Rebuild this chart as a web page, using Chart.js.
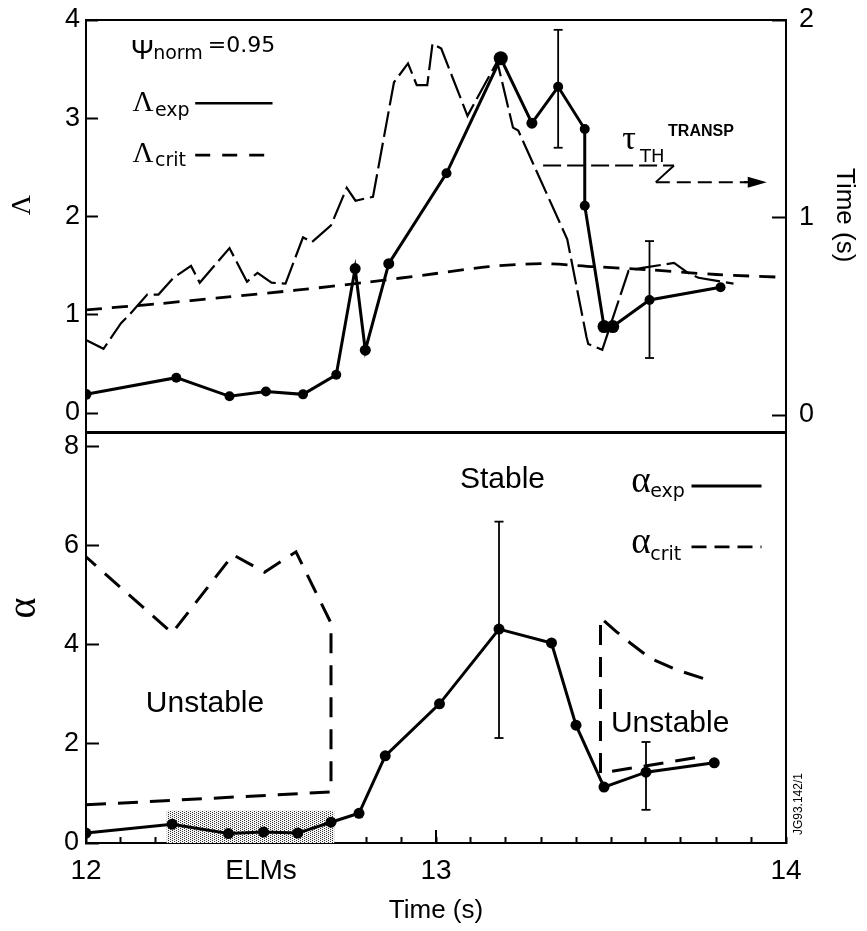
<!DOCTYPE html>
<html><head><meta charset="utf-8">
<script src="https://cdn.jsdelivr.net/npm/chart.js@4/dist/chart.umd.min.js"></script>
<style>
html,body{margin:0;padding:0;background:#fff;width:867px;height:931px;overflow:hidden}
canvas{position:absolute;left:0}
#c1{top:0}
#c2{top:420px}
</style></head><body>
<canvas id="c1" width="867" height="445"></canvas>
<canvas id="c2" width="867" height="511"></canvas>
<script>
// ---------------- DATA ----------------
// Top panel: Lambda_exp (left axis)
const lambdaExpTime  = [12.00,12.258,12.41,12.514,12.62,12.715,12.769,12.798,12.865,13.03,13.185,13.274,13.349,13.425,13.425,13.48,13.505,13.61,13.813];
const lambdaExpValue = [0.19,0.36,0.17,0.22,0.19,0.39,1.47,0.64,1.52,2.44,3.61,2.95,3.32,2.89,2.11,0.88,0.88,1.15,1.28];
const lambdaExpRadius= [5.5,5,5,5,5,5,5.5,5.5,5.5,5,7,5.5,5,5,5,6.5,6.5,5,5];
// Top panel: Lambda_crit (left axis)
const lambdaCritTime  = [12.0,12.2,12.4,12.6,12.8,13.0,13.15,13.3,13.45,13.6,13.8,14.0];
const lambdaCritValue = [1.05,1.11,1.18,1.25,1.33,1.42,1.49,1.52,1.49,1.46,1.41,1.38];
// Top panel: tau_TH TRANSP (right axis, seconds)
const tauTime  = [12.00,12.05,12.10,12.125,12.175,12.207,12.25,12.30,12.325,12.41,12.46,12.49,12.53,12.57,12.62,12.645,12.70,12.745,12.77,12.82,12.88,12.92,12.945,12.975,12.99,13.015,13.09,13.175,13.22,13.235,13.375,13.43,13.435,13.475,13.55,13.59,13.68,13.72,13.75,13.85];
const tauValue = [0.38,0.335,0.465,0.51,0.61,0.61,0.695,0.755,0.67,0.845,0.675,0.72,0.67,0.665,0.90,0.875,0.96,1.15,1.085,1.105,1.685,1.78,1.67,1.67,1.88,1.855,1.515,1.79,1.455,1.44,0.89,0.395,0.36,0.33,0.73,0.745,0.77,0.72,0.695,0.665];
// Top panel error bars
const lambdaErrTime = [13.349,13.61];
const lambdaErrLow  = [2.70,0.56];
const lambdaErrHigh = [3.90,1.75];
// Bottom panel: alpha_exp
const alphaExpTime  = [12.00,12.246,12.407,12.507,12.605,12.70,12.78,12.855,13.01,13.18,13.33,13.40,13.48,13.60,13.795];
const alphaExpValue = [0.20,0.38,0.19,0.22,0.20,0.42,0.60,1.76,2.81,4.32,4.04,2.38,1.13,1.43,1.62];
// Bottom panel: alpha_crit (two branches)
const alphaCritLeftTime   = [12.0,12.70,12.70,12.60,12.51,12.42,12.246,12.0];
const alphaCritLeftValue  = [0.77,1.03,4.44,5.88,5.47,5.82,4.24,5.78];
const alphaCritRightTime  = [13.74,13.47,13.47,13.515,13.555,13.61,13.69,13.77];
const alphaCritRightValue = [1.72,1.41,4.55,4.27,4.04,3.74,3.49,3.31];
// Bottom panel error bars
const alphaErrTime = [13.18,13.60];
const alphaErrLow  = [2.12,0.67];
const alphaErrHigh = [6.49,2.04];
// ELM shaded band
const elmTime  = [12.23,12.71];
const elmLevel = [0.65,0.65];
// Tick labels
const xTickLabels = {'12.0':'12','12.5':'ELMs','13.0':'13','14.0':'14'};
const lambdaTicks = [0,1,2,3,4];
const timeTicks = [0,1,2];
const alphaTicks = [0,2,4,6,8];

// ---------------- STYLE HELPERS ----------------
Chart.defaults.color = '#000';
const SANS = "'Liberation Sans', Arial, sans-serif";
const DV = "'DejaVu Sans', sans-serif";
const SERIF = "'Liberation Serif', 'Times New Roman', serif";
Chart.defaults.font.family = SANS;

const pts = (xs, ys) => xs.map((x, i) => ({x, y: ys[i]}));
const zeroPad = s => { s.paddingTop = 0; s.paddingBottom = 0; s.paddingLeft = 0; s.paddingRight = 0; };
const fixW = w => s => { s.width = w; zeroPad(s); };
const fixH = h => s => { s.height = h; zeroPad(s); };
const BORDER = {display: true, color: '#000', width: 2};

function txt(ctx, s, px, py, font, align, sx) {
  ctx.save();
  ctx.font = font; ctx.textAlign = align || 'left'; ctx.textBaseline = 'alphabetic'; ctx.fillStyle = '#000';
  ctx.translate(px, py); if (sx) ctx.scale(sx, 1);
  ctx.fillText(s, 0, 0);
  ctx.restore();
}
function seg(ctx, x1, y1, x2, y2, w, dash) {
  ctx.save(); ctx.strokeStyle = '#000'; ctx.lineWidth = w; ctx.setLineDash(dash || []);
  ctx.beginPath(); ctx.moveTo(x1, y1); ctx.lineTo(x2, y2); ctx.stroke(); ctx.restore();
}
function errorBar(ctx, px, pLo, pHi, cap) {
  seg(ctx, px, pLo, px, pHi, 1.8);
  seg(ctx, px - cap, pLo, px + cap, pLo, 1.8);
  seg(ctx, px - cap, pHi, px + cap, pHi, 1.8);
}

// ---------------- TOP CHART ----------------
const topNotes = {
  id: 'topNotes',
  afterDatasetsDraw(chart) {
    const {ctx, scales: {x, y}} = chart;
    const X = v => x.getPixelForValue(v), Y = v => y.getPixelForValue(v);
    lambdaErrTime.forEach((t, i) => errorBar(ctx, X(t), Y(lambdaErrLow[i]), Y(lambdaErrHigh[i]), 4.5));
    // labels
    txt(ctx, 'Ψ', X(12.128), Y(3.60), '28px ' + SANS);
    txt(ctx, 'norm', X(12.192), Y(3.60), '19px ' + DV);
    txt(ctx, '=0.95', X(12.348), Y(3.67), '22px ' + DV);
    txt(ctx, 'Λ', X(12.133), Y(3.07), '29px ' + SERIF);
    txt(ctx, 'exp', X(12.197), Y(3.02), '19px ' + DV);
    seg(ctx, X(12.312), Y(3.153), X(12.533), Y(3.153), 2.6);
    txt(ctx, 'Λ', X(12.133), Y(2.55), '29px ' + SERIF);
    txt(ctx, 'crit', X(12.197), Y(2.515), '19px ' + DV);
    seg(ctx, X(12.312), Y(2.625), X(12.533), Y(2.625), 2.6, [15, 12]);
    // tau_TH TRANSP label + arrow
    txt(ctx, 'τ', X(13.532), Y(2.69), '34px ' + SERIF);
    txt(ctx, 'TH', X(13.583), Y(2.552), '18px ' + DV);
    txt(ctx, 'TRANSP', X(13.663), Y(2.82), 'bold 16px ' + SANS);
    const ya = Y(2.52), yb = Y(2.35);
    seg(ctx, X(13.306), ya, X(13.68), ya, 2, [18, 6]);
    seg(ctx, X(13.68), ya, X(13.628), yb, 2);
    seg(ctx, X(13.628), yb, X(13.89), yb, 2, [14, 7]);
    const tip = X(13.945);
    ctx.save(); ctx.fillStyle = '#000'; ctx.beginPath();
    ctx.moveTo(tip, yb); ctx.lineTo(tip - 19, yb - 5.5); ctx.lineTo(tip - 19, yb + 5.5); ctx.closePath(); ctx.fill();
    ctx.restore();
    seg(ctx, X(13.88), yb, tip - 15, yb, 2);
  }
};

new Chart(document.getElementById('c1'), {
  type: 'line',
  data: {
    datasets: [
      {label: 'Λexp', data: pts(lambdaExpTime, lambdaExpValue), yAxisID: 'y',
       borderColor: '#000', borderWidth: 3, pointRadius: lambdaExpRadius, pointBackgroundColor: '#000',
       pointBorderWidth: 0, tension: 0, order: 1},
      {label: 'Λcrit', data: pts(lambdaCritTime, lambdaCritValue), yAxisID: 'y',
       borderColor: '#000', borderWidth: 2.8, borderDash: [16, 10], pointRadius: 0, tension: 0.3, order: 2},
      {label: 'τTH TRANSP', data: pts(tauTime, tauValue), yAxisID: 'y2',
       borderColor: '#000', borderWidth: 2.2, borderDash: [26, 6], pointRadius: 0, tension: 0, order: 3}
    ]
  },
  options: {
    responsive: false, animation: false, events: [],
    layout: {padding: {top: 20, bottom: 13, left: 0, right: 0}, autoPadding: false},
    plugins: {legend: {display: false}, tooltip: {enabled: false}},
    scales: {
      x: {type: 'linear', position: 'bottom', min: 12, max: 14,
          ticks: {display: false}, grid: {display: false}, border: BORDER, afterFit: fixH(0)},
      xTop: {type: 'linear', position: 'top', min: 12, max: 14,
          ticks: {display: false}, grid: {display: false}, border: BORDER, afterFit: fixH(0)},
      y: {type: 'linear', position: 'left', min: -0.193, max: 4,
          afterBuildTicks: s => { s.ticks = lambdaTicks.map(v => ({value: v})); },
          ticks: {font: {size: 27, family: SANS}, padding: 18, color: '#000'},
          grid: {drawOnChartArea: false, drawTicks: true, tickLength: -12, tickWidth: 2, tickColor: '#000'},
          border: BORDER,
          title: {display: true, text: '      Λ', font: {size: 28, family: SERIF}, padding: {top: 6, bottom: 0}, color: '#000'},
          afterFit: fixW(86)},
      y2: {type: 'linear', position: 'right', min: -0.086, max: 2,
          afterBuildTicks: s => { s.ticks = timeTicks.map(v => ({value: v})); },
          ticks: {font: {size: 27, family: SANS}, padding: 27, color: '#000'},
          grid: {drawOnChartArea: false, drawTicks: true, tickLength: -14, tickWidth: 2, tickColor: '#000'},
          border: BORDER,
          title: {display: true, text: 'Time (s)   ', font: {size: 26, family: SANS}, padding: {top: 7, bottom: 0}, color: '#000'},
          afterFit: fixW(81)}
    }
  },
  plugins: [topNotes]
});

// ---------------- BOTTOM CHART ----------------
const c2 = document.getElementById('c2');
const stipple = (() => {
  const off = document.createElement('canvas'); off.width = 4; off.height = 4;
  const g = off.getContext('2d');
  g.fillStyle = '#f4f4f4'; g.fillRect(0, 0, 4, 4);
  g.fillStyle = '#333'; [[0,0],[2,1],[0,2],[2,3]].forEach(([a, b]) => g.fillRect(a, b, 1, 1));
  return c2.getContext('2d').createPattern(off, 'repeat');
})();

const bottomNotes = {
  id: 'bottomNotes',
  afterDatasetsDraw(chart) {
    const {ctx, scales: {x, y}, chartArea} = chart;
    const X = v => x.getPixelForValue(v), Y = v => y.getPixelForValue(v);
    alphaErrTime.forEach((t, i) => errorBar(ctx, X(t), Y(alphaErrLow[i]), Y(alphaErrHigh[i]), 4.5));
    // longer major tick at 13
    seg(ctx, X(13), chartArea.bottom, X(13), chartArea.bottom - 13, 2);
    txt(ctx, 'Stable', X(13.19), Y(7.16), '30px ' + SANS, 'center');
    txt(ctx, 'α', X(13.558), Y(7.09), '37px ' + SERIF);
    txt(ctx, 'exp', X(13.612), Y(6.98), '19px ' + DV);
    seg(ctx, X(13.73), Y(7.21), X(13.93), Y(7.21), 2.8);
    txt(ctx, 'α', X(13.558), Y(5.86), '37px ' + SERIF);
    txt(ctx, 'crit', X(13.612), Y(5.72), '19px ' + DV);
    seg(ctx, X(13.73), Y(5.98), X(13.93), Y(5.98), 2.8, [15, 8]);
    txt(ctx, 'Unstable', X(12.34), Y(2.65), '30px ' + SANS, 'center');
    txt(ctx, 'Unstable', X(13.669), Y(2.24), '30px ' + SANS, 'center');
    // catalogue code
    ctx.save(); ctx.translate(X(14.035), Y(0.16)); ctx.rotate(-Math.PI / 2);
    ctx.font = '12px ' + SANS; ctx.textAlign = 'left'; ctx.textBaseline = 'middle'; ctx.fillStyle = '#000';
    ctx.fillText('JG93.142/1', 0, 0); ctx.restore();
  }
};

new Chart(c2, {
  type: 'line',
  data: {
    datasets: [
      {label: 'ELMs', data: pts(elmTime, elmLevel), borderWidth: 0, pointRadius: 0,
       fill: 'origin', backgroundColor: stipple, order: 10},
      {label: 'αexp', data: pts(alphaExpTime, alphaExpValue), borderColor: '#000', borderWidth: 3,
       pointRadius: 5.5, pointBackgroundColor: '#000', pointBorderWidth: 0, tension: 0, order: 1},
      {label: 'αcrit', data: pts(alphaCritLeftTime, alphaCritLeftValue), borderColor: '#000', borderWidth: 3,
       borderDash: [20, 12], pointRadius: 0, tension: 0, order: 2},
      {label: 'αcrit2', data: pts(alphaCritRightTime, alphaCritRightValue), borderColor: '#000', borderWidth: 3,
       borderDash: [20, 12], pointRadius: 0, tension: 0, order: 2}
    ]
  },
  options: {
    responsive: false, animation: false, events: [],
    layout: {padding: {top: 13, bottom: 0, left: 0, right: 0}, autoPadding: false},
    plugins: {legend: {display: false}, tooltip: {enabled: false}},
    scales: {
      x: {type: 'linear', position: 'bottom', min: 12, max: 14,
          ticks: {stepSize: 0.1, autoSkip: false, maxRotation: 0, font: {size: 28, family: SANS}, padding: 17, color: '#000',
                  callback: v => xTickLabels[(Math.round(v * 10) / 10).toFixed(1)] || ''},
          grid: {drawOnChartArea: false, drawTicks: true, tickLength: -6, tickWidth: 2, tickColor: '#000'},
          border: BORDER,
          title: {display: true, text: 'Time (s)', font: {size: 26, family: SANS}, padding: {top: 0, bottom: 5}, color: '#000'},
          afterFit: fixH(88)},
      xTop: {type: 'linear', position: 'top', min: 12, max: 14,
          ticks: {display: false}, grid: {display: false}, border: BORDER, afterFit: fixH(0)},
      y: {type: 'linear', position: 'left', min: 0, max: 8.28,
          afterBuildTicks: s => { s.ticks = alphaTicks.map(v => ({value: v})); },
          ticks: {font: {size: 27, family: SANS}, padding: 20, color: '#000'},
          grid: {drawOnChartArea: false, drawTicks: true, tickLength: -13, tickWidth: 2, tickColor: '#000'},
          border: BORDER,
          title: {display: true, text: '      α', font: {size: 40, family: SERIF}, padding: {top: 0, bottom: 0}, color: '#000'},
          afterFit: fixW(86)},
      yR: {type: 'linear', position: 'right', min: 0, max: 8.28,
          ticks: {display: false}, grid: {display: false}, border: BORDER, afterFit: fixW(81)}
    }
  },
  plugins: [bottomNotes]
});
</script></body></html>
